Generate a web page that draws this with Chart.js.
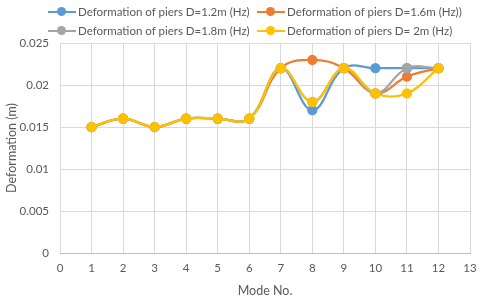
<!DOCTYPE html>
<html>
<head>
<meta charset="utf-8">
<script src="https://cdn.jsdelivr.net/npm/chart.js@4/dist/chart.umd.min.js"></script>
<style>
  html, body { margin: 0; padding: 0; background: #fff; }
  #wrap { position: relative; width: 480px; height: 302px; }
  #chart { position: absolute; left: 0; top: 0; }
  .legend { position: absolute; font: 11.5px Lato, sans-serif; color: #595959; white-space: nowrap; }
  .legend .item { position: absolute; display: flex; align-items: center; }
  .legend .mark { position: relative; width: 28px; height: 9px; margin-right: 2px; }
  .legend .mark::before { content: ""; position: absolute; left: 0; right: 0; top: 3.5px; height: 2px; background: var(--c); }
  .legend .mark::after { content: ""; position: absolute; left: 9px; top: 0; width: 9px; height: 9px; border-radius: 50%; background: var(--c); }
</style>
</head>
<body>
<div id="wrap">
  <canvas id="chart" width="480" height="302"></canvas>
  <div class="legend" id="legend"></div>
</div>
<script>
  const modes = [1, 2, 3, 4, 5, 6, 7, 8, 9, 10, 11, 12];
  const seriesNames = [
    "Deformation of piers D=1.2m (Hz)",
    "Deformation of piers D=1.6m (Hz))",
    "Deformation of piers D=1.8m (Hz)",
    "Deformation of piers D= 2m (Hz)"
  ];
  const d12 = [0.015, 0.016, 0.015, 0.016, 0.016, 0.016, 0.022, 0.017, 0.022, 0.022, 0.022, 0.022];
  const d16 = [0.015, 0.016, 0.015, 0.016, 0.016, 0.016, 0.022, 0.023, 0.022, 0.019, 0.021, 0.022];
  const d18 = [0.015, 0.016, 0.015, 0.016, 0.016, 0.016, 0.022, 0.018, 0.022, 0.019, 0.022, 0.022];
  const d20 = [0.015, 0.016, 0.015, 0.016, 0.016, 0.016, 0.022, 0.018, 0.022, 0.019, 0.019, 0.022];
  const yTicks = ["0", "0.005", "0.01", "0.015", "0.02", "0.025"];
  const colors = ["#5B9BD5", "#ED7D31", "#A5A5A5", "#FFC000"];

  const allSeries = [d12, d16, d18, d20];

  // legend in html, two rows like the excel one
  const legendPos = [[48, 5], [257, 5], [48, 24], [257, 24]];
  document.getElementById("legend").innerHTML = seriesNames.map((name, i) =>
    `<div class="item" style="left:${legendPos[i][0]}px;top:${legendPos[i][1]}px"><span class="mark" style="--c:${colors[i]}"></span>${name}</div>`
  ).join("");

  const tickFont = { family: "Lato, sans-serif", size: 11.5 };

  new Chart(document.getElementById("chart"), {
    type: "line",
    data: {
      datasets: allSeries.map((values, i) => ({
        label: seriesNames[i],
        data: modes.map((m, k) => ({ x: m, y: values[k] })),
        borderColor: colors[i],
        backgroundColor: colors[i],
        borderWidth: 2.25,
        pointRadius: 4,
        pointHoverRadius: 4,
        tension: 0.4,
        order: 4 - i
      }))
    },
    options: {
      responsive: false,
      animation: false,
      layout: { padding: { top: 43, right: 10, left: 0, bottom: 0 } },
      plugins: { legend: { display: false }, tooltip: { enabled: false } },
      scales: {
        x: {
          type: "linear",
          min: 0,
          max: 13,
          ticks: { stepSize: 1, color: "#595959", font: tickFont, padding: 8 },
          grid: { color: "#d9d9d9", drawTicks: false },
          border: { color: "#bfbfbf" },
          title: { display: true, text: "Mode No.", color: "#595959", font: { family: "Lato, sans-serif", size: 12.5 }, padding: { top: 5 } },
          afterFit: (scale) => { scale.height = 49; scale.paddingRight = 0; scale.paddingLeft = 0; }
        },
        y: {
          min: 0,
          max: 0.025,
          ticks: {
            stepSize: 0.005,
            color: "#595959",
            font: tickFont,
            padding: 11,
            callback: (value) => yTicks[Math.round(value / 0.005)]
          },
          grid: { color: "#d9d9d9", drawTicks: false },
          border: { display: false },
          title: { display: true, text: "Deformation (m)", color: "#595959", font: { family: "Lato, sans-serif", size: 12.5 }, padding: { bottom: 2 } },
          afterFit: (scale) => { scale.width = 60; }
        }
      }
    }
  });
</script>
</body>
</html>
